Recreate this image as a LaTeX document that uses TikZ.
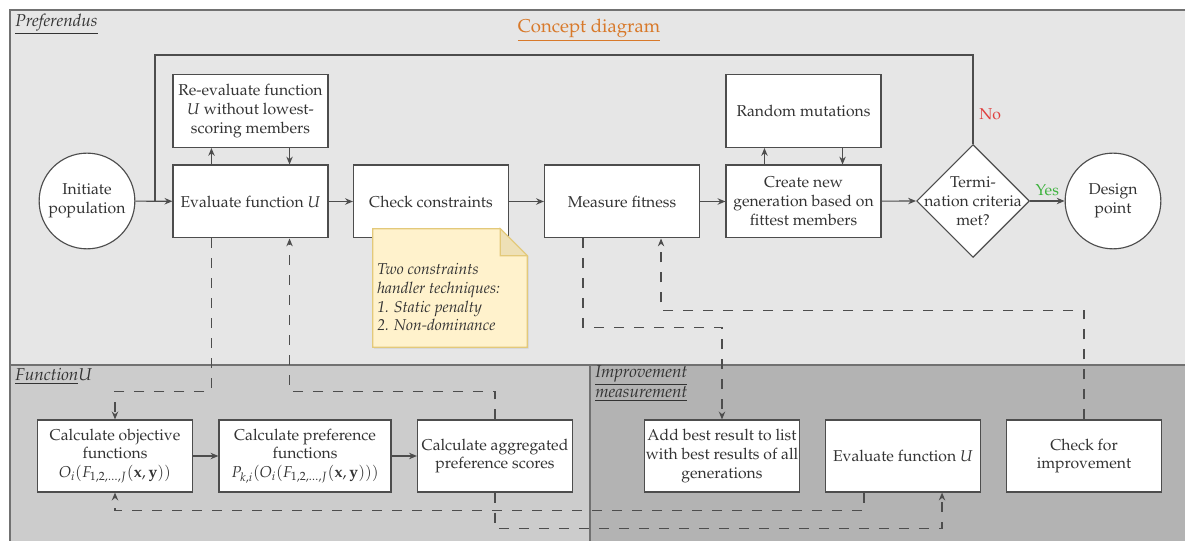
\documentclass[tikz,border=0pt]{standalone}
\usepackage[T1]{fontenc}
\usepackage{mathpazo}
\usepackage{amsmath}
\usetikzlibrary{arrows.meta,calc,shapes.geometric,shadows}
\definecolor{bgA}{HTML}{E6E6E6}
\definecolor{bgB}{HTML}{CCCCCC}
\definecolor{bgC}{HTML}{B3B3B3}
\definecolor{edge}{HTML}{4D4D4D}
\definecolor{ink}{HTML}{333333}
\definecolor{notefill}{HTML}{FFF2CC}
\definecolor{notedraw}{HTML}{E3C97A}
\definecolor{notefold}{HTML}{EEE0B6}
\definecolor{titleorange}{HTML}{D8792A}
\definecolor{nored}{HTML}{E0403F}
\definecolor{yesgreen}{HTML}{3DB23D}
\tikzset{
  >={Stealth[length=5.5pt,width=4.5pt]},
  box/.style={draw=edge,fill=white,line width=0.8pt,minimum width=108.5pt,minimum height=51pt,align=center,inner sep=1pt,text=ink},
  circ/.style={draw=edge,fill=white,line width=0.8pt,circle,minimum size=67pt,inner sep=0pt,align=center,text=ink},
  dia/.style={draw=edge,fill=white,line width=0.8pt,diamond,minimum size=79pt,inner sep=0pt},
  panel/.style={draw=edge!80,line width=0.8pt},
  lbl/.style={text=ink,align=left,inner sep=0pt,font=\fontsize{12}{14.5}\selectfont},
  arr/.style={->,draw=edge,line width=0.8pt},
  line/.style={draw=edge,line width=0.8pt},
  darr/.style={->,draw=edge,line width=0.8pt,dash pattern=on 7pt off 7pt},
}
\begin{document}
\begin{tikzpicture}[x=0.7pt,y=-0.7pt,font=\fontsize{11}{13.2}\selectfont,every node/.append style={text=ink}]
\clip (0,0) rectangle (1185,541);
% panels
\draw[panel,fill=bgA] (10,10) rectangle (1200,365);
\draw[panel,fill=bgB] (10,365) rectangle (590,560);
\draw[panel,fill=bgC] (590,365) rectangle (1200,560);
\node[lbl,anchor=west] (preflbl) at (15,24) {\underline{\textit{Preferendus}}};
\node[lbl,anchor=center,text=titleorange,font=\fontsize{13}{15}\selectfont] (title) at (589,30) {\underline{Concept diagram}};
\node[lbl,anchor=west] (funlbl) at (15,376) {\underline{\textit{Function}}$U$};
\node[lbl,anchor=north west] (implbl) at (595,365) {\underline{\textit{Improvement}}\\\underline{\textit{measurement}}};

% main row
\node[circ] (init) at (87,201) {Initiate\\population};
\node[box] (eval) at (250.5,201.5) {Evaluate function $U$};
\node[box] (reval) at (250.5,111) {Re-evaluate function\\$U$ without lowest-\\scoring members};
\node[box] (cons) at (431,201.5) {Check constraints};
\node[box] (meas) at (622,201.5) {Measure fitness};
\node[box] (crea) at (803.5,201.5) {Create new\\generation based on\\fittest members};
\node[box] (mut) at (803.5,111) {Random mutations};
\node[dia] (term) at (973,201) {};
\node[align=center,inner sep=0pt] (termtxt) at (term) {Termi-\\nation criteria\\met?};
\node[circ] (design) at (1113,201) {Design\\point};

% note
\node[minimum width=107.8pt,minimum height=82.6pt,inner sep=0pt] (note) at (450,288) {};
\fill[notefill,drop shadow={opacity=0.2,shadow xshift=1pt,shadow yshift=-1pt}] (note.north west) -- ($(note.north east)+(-27,0)$) -- ($(note.north east)+(0,27)$) -- (note.south east) -- (note.south west) -- cycle;
\draw[notedraw,line width=0.8pt] (note.north west) -- ($(note.north east)+(-27,0)$) -- ($(note.north east)+(0,27)$) -- (note.south east) -- (note.south west) -- cycle;
\draw[notedraw,fill=notefold,line width=0.8pt] ($(note.north east)+(-27,0)$) -- ($(note.north east)+(-27,27)$) -- ($(note.north east)+(0,27)$) -- cycle;
\node[anchor=west,align=left,font=\fontsize{11}{13.2}\selectfont\itshape,inner sep=0pt] (notetxt) at (377,297) {Two constraints\\handler techniques:\\1. Static penalty\\2. Non-dominance};

% bottom row
\node[box,minimum height=50.4pt] (obj) at (115,456) {Calculate objective\\functions\\$O_i(F_{1,2,\ldots,J}(\mathbf{x},\mathbf{y}))$};
\node[box,minimum height=50.4pt,minimum width=120.4pt] (pref) at (305,456) {Calculate preference\\functions\\$P_{k,i}(O_i(F_{1,2,\ldots,J}(\mathbf{x},\mathbf{y})))$};
\node[box,minimum height=50.4pt] (agg) at (495,456) {Calculate aggregated\\preference scores};
\node[box,minimum height=50.4pt] (add) at (722,456) {Add best result to list\\with best results of all\\generations};
\node[box,minimum height=50.4pt] (ev2) at (903,456) {Evaluate function $U$};
\node[box,minimum height=50.4pt] (chk) at (1084,456) {Check for\\improvement};

% solid connectors
\coordinate (join) at (155,201);
\draw[arr] (init) -- (eval);
\draw[line] (term.north) -- node[pos=0.33,right,text=nored,inner sep=4pt] {No} ++(0,-89) -| (join);
\draw[arr] ($(eval.north west)!.25!(eval.north east)$) -- ($(reval.south west)!.25!(reval.south east)$);
\draw[arr] ($(reval.south west)!.75!(reval.south east)$) -- ($(eval.north west)!.75!(eval.north east)$);
\draw[arr] (eval) -- (cons);
\draw[arr] (cons) -- (meas);
\draw[arr] (meas) -- (crea);
\draw[arr] ($(crea.north west)!.25!(crea.north east)$) -- ($(mut.south west)!.25!(mut.south east)$);
\draw[arr] ($(mut.south west)!.75!(mut.south east)$) -- ($(crea.north west)!.75!(crea.north east)$);
\draw[arr] (crea) -- (term.west);
\draw[arr] (term.east) -- node[above,text=yesgreen] {Yes} (design);
\draw[arr] (obj) -- (pref);
\draw[arr] (pref) -- (agg);

% dashed connectors
\draw[darr] ($(eval.south west)!.25!(eval.south east)$) |- ($(obj.north)+(0,-28)$) -- (obj.north);
\draw[darr] (agg.north) -- ++(0,-28) -| ($(eval.south west)!.75!(eval.south east)$);
\draw[darr] ($(meas.south west)!.25!(meas.south east)$) |- ($(add.north)+(0,-92)$) -- (add.north);
\draw[darr] (chk.north) -- ++(0,-109) -| ($(meas.south west)!.75!(meas.south east)$);
\draw[darr] (agg.south) -- ++(0,36) -| ($(ev2.south west)!.75!(ev2.south east)$);
\draw[darr] ($(ev2.south west)!.25!(ev2.south east)$) -- ++(0,18) -| (obj.south);
\end{tikzpicture}
\end{document}
